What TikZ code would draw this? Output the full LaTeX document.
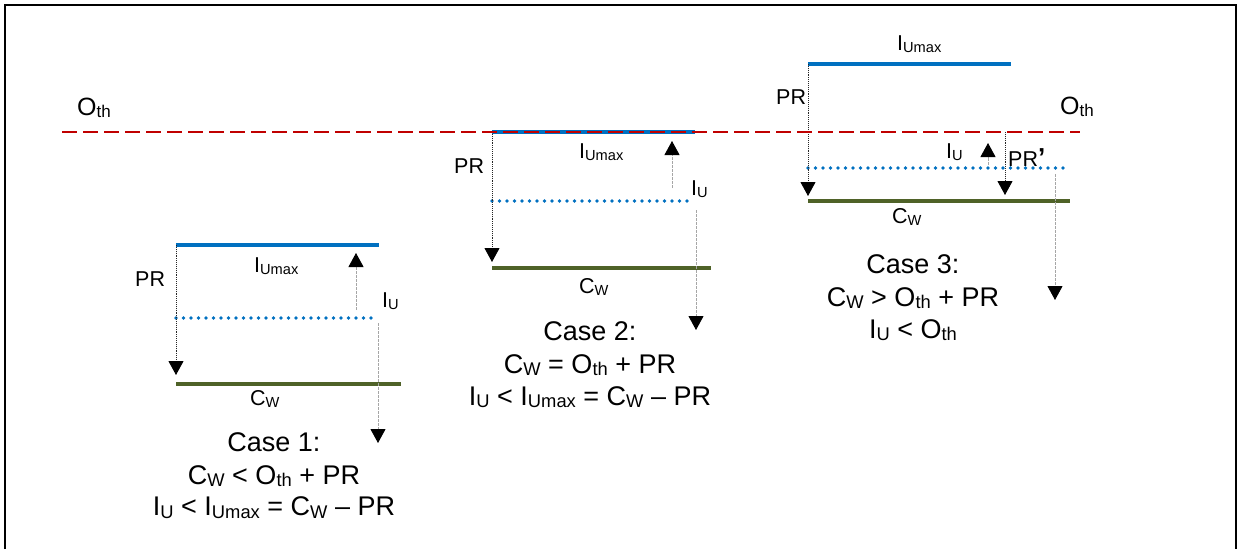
\documentclass[tikz,border=0pt]{standalone}
\usepackage{fontspec}
\usepackage{graphicx}
\setmainfont{Liberation Sans}
\usetikzlibrary{arrows.meta}

\definecolor{lineblue}{HTML}{0070C0}
\definecolor{cwgreen}{HTML}{4F6228}
\definecolor{thred}{HTML}{C00000}
\definecolor{guidegray}{HTML}{A6A6A6}

% lowered, reduced subscript text
\newcommand\lowsub[1]{\raisebox{-0.11em}{\scalebox{0.68}{#1}}}

\tikzset{
  lbl/.style={font=\fontsize{21.5}{24}\selectfont, inner sep=0pt, anchor=base west},
  biglbl/.style={font=\fontsize{25}{28}\selectfont, inner sep=0pt, anchor=base west},
  caseline/.style={font=\fontsize{27}{32}\selectfont, inner sep=0pt, anchor=base},
  umaxline/.style={draw=lineblue, line width=3.6pt},
  cwline/.style={draw=cwgreen, line width=3.6pt},
  iuline/.style={draw=lineblue, line width=3.6pt, line cap=round, dash pattern=on 0pt off 7.5pt},
  thline/.style={draw=thred, line width=2.4pt, dash pattern=on 15pt off 6pt},
  prarrow/.style={draw=black!85, line width=0.9pt, densely dotted,
    -{Triangle[width=15pt,length=14pt,black]}},
  iuarrow/.style={draw=guidegray, line width=0.9pt, dash pattern=on 3pt off 1pt,
    -{Triangle[width=15pt,length=14pt,black]}},
  frameline/.style={draw=black, line width=2.2pt},
}

\begin{document}
\begin{tikzpicture}[x=1pt, y=-1pt]
\useasboundingbox (0,0) rectangle (1238,549);

% open frame (no bottom edge)
\coordinate (fbl) at (5,549);
\coordinate (ftl) at (5,5);
\coordinate (ftr) at (1236.3,5);
\coordinate (fbr) at (1236.3,549);
\draw[frameline] (fbl) -- (ftl) -- (ftr) -- (fbr);

% ---------- Case 1 ----------
\coordinate (m1a) at (176,245);   \coordinate (m1b) at (379,245);
\coordinate (d1a) at (176,318);   \coordinate (d1b) at (373,318);
\coordinate (w1a) at (176,384);   \coordinate (w1b) at (401,384);
\coordinate (p1e) at (176,375);
\coordinate (u1s) at (356,310);   \coordinate (u1e) at (356,253);
\coordinate (v1s) at (378,323);   \coordinate (v1e) at (378,443);

\draw[umaxline] (m1a) -- (m1b);
\draw[iuline] (d1a) -- (d1b);
\draw[cwline] (w1a) -- (w1b);
\draw[prarrow] (m1a) -- (p1e);
\draw[iuarrow] (u1s) -- (u1e);
\draw[iuarrow] (v1s) -- (v1e);

\node[lbl] (pr1) at (135,286) {PR};
\node[lbl] (um1) at (254,272) {I\lowsub{Umax}};
\node[lbl] (iu1) at (382,307) {I\lowsub{U}};
\node[lbl] (cw1) at (250,405) {C\lowsub{W}};
\node[caseline] (c1a) at (274,451.7) {Case 1:};
\node[caseline] (c1b) at (274,484) {C\lowsub{W} < O\lowsub{th} + PR};
\node[caseline] (c1c) at (274,515.5) {I\lowsub{U} < I\lowsub{Umax} = C\lowsub{W} – PR};

% ---------- Case 2 ----------
\coordinate (m2a) at (492,132);   \coordinate (m2b) at (695,132);
\coordinate (d2a) at (492,201);   \coordinate (d2b) at (690,201);
\coordinate (w2a) at (492,268);   \coordinate (w2b) at (711,268);
\coordinate (p2e) at (492,262);
\coordinate (u2s) at (672,188);   \coordinate (u2e) at (672,141);
\coordinate (v2s) at (696,210);   \coordinate (v2e) at (696,330);

\draw[umaxline] (m2a) -- (m2b);
\draw[iuline] (d2a) -- (d2b);
\draw[cwline] (w2a) -- (w2b);
\draw[prarrow] (m2a) -- (p2e);
\draw[iuarrow] (u2s) -- (u2e);
\draw[iuarrow] (v2s) -- (v2e);

\node[lbl] (pr2) at (454,173) {PR};
\node[lbl] (um2) at (579,158) {I\lowsub{Umax}};
\node[lbl] (iu2) at (691,195) {I\lowsub{U}};
\node[lbl] (cw2) at (579,293) {C\lowsub{W}};
\node[caseline] (c2a) at (590,340) {Case 2:};
\node[caseline] (c2b) at (590,373) {C\lowsub{W} = O\lowsub{th} + PR};
\node[caseline] (c2c) at (590,405) {I\lowsub{U} < I\lowsub{Umax} = C\lowsub{W} – PR};

% ---------- Case 3 ----------
\coordinate (m3a) at (808,64);    \coordinate (m3b) at (1011,64);
\coordinate (d3a) at (808,168);   \coordinate (d3b) at (1067,168);
\coordinate (w3a) at (808,201);   \coordinate (w3b) at (1070,201);
\coordinate (p3e) at (808,196);
\coordinate (q3s) at (1005,132);  \coordinate (q3e) at (1005,195);
\coordinate (u3s) at (988,165);   \coordinate (u3e) at (988,143);
\coordinate (v3s) at (1055,174);  \coordinate (v3e) at (1055,300);

\draw[umaxline] (m3a) -- (m3b);
\draw[iuline] (d3a) -- (d3b);
\draw[cwline] (w3a) -- (w3b);
\draw[prarrow] (m3a) -- (p3e);
\draw[prarrow] (q3s) -- (q3e);
\draw[iuarrow] (u3s) -- (u3e);
\draw[iuarrow] (v3s) -- (v3e);

\node[lbl] (um3) at (897,50) {I\lowsub{Umax}};
\node[lbl] (pr3) at (776,104) {PR};
\node[lbl] (iu3) at (946,158) {I\lowsub{U}};
\node[lbl] (pq3) at (1008,166) {PR{\bfseries\fontsize{26}{28}\selectfont ’}};
\node[lbl] (cw3) at (892,223) {C\lowsub{W}};
\node[caseline] (c3a) at (913,273) {Case 3:};
\node[caseline] (c3b) at (913,306) {C\lowsub{W} > O\lowsub{th} + PR};
\node[caseline] (c3c) at (913,338) {I\lowsub{U} < O\lowsub{th}};

% ---------- threshold O_th ----------
\coordinate (tha) at (62,132);
\coordinate (thb) at (1080,132);
\draw[thline] (tha) -- (thb);
\node[biglbl] (thl) at (77,115) {O\lowsub{th}};
\node[biglbl] (thr) at (1060,114) {O\lowsub{th}};

\end{tikzpicture}
\end{document}
